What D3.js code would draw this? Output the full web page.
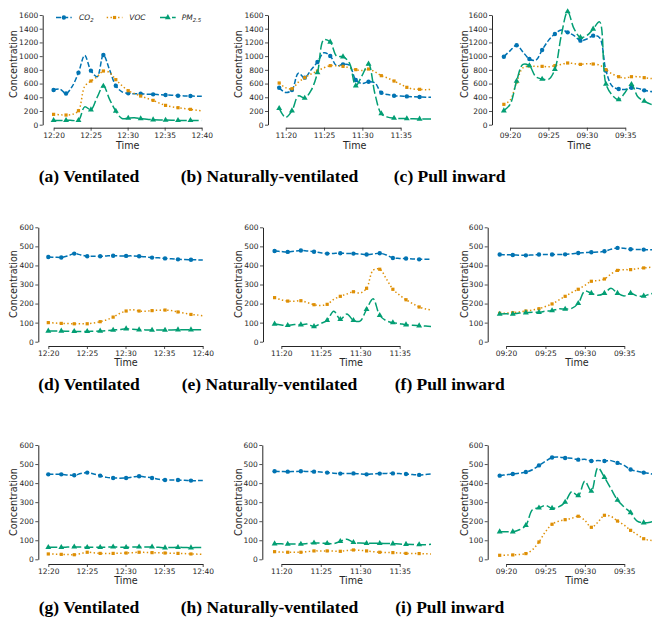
<!DOCTYPE html>
<html><head><meta charset="utf-8">
<script src="https://cdn.jsdelivr.net/npm/d3@7"></script>
<style>
body{margin:0;background:#fff;}
svg{display:block;font-family:"DejaVu Sans",sans-serif;}
</style></head><body>
<svg id="fig" width="652" height="626"></svg>
<script>
// ---- tick labels ----
const ticksNoon = ["12:20", "12:25", "12:30", "12:35", "12:40"];
const ticksEleven = ["11:20", "11:25", "11:30", "11:35"];
const ticksNine = ["09:20", "09:25", "09:30", "09:35"];
const yTicksHigh = [0, 200, 400, 600, 800, 1000, 1200, 1400, 1600];
const yTicksLow = [0, 100, 200, 300, 400, 500, 600];

// ---- sampling (minute of the hour of the first sample, minutes between samples) ----
const sampleNoon = { start: 20, step: 0.84 };
const sampleEleven = { start: 19.15, step: 0.8325 };
const sampleNine = { start: 19.2, step: 0.83 };

// ---- series values ----
const co2A = [506,520,455,560,759,1010,788,700,1016,800,569,480,457,450,453,445,443,438,433,430,423,420,418,415,415];
const vocA = [151,145,141,150,204,560,637,700,783,760,657,570,496,455,418,385,355,315,282,262,248,235,224,212,200];
const pmA  = [63,60,63,63,63,260,219,400,564,370,199,90,97,100,88,78,73,70,68,65,63,62,63,62,62];

const co2B = [540,470,506,750,686,800,914,1050,1002,860,880,870,652,600,627,610,467,440,423,418,413,408,404,400,400];
const vocB = [608,540,525,620,686,740,783,830,861,860,851,830,803,790,812,770,715,680,637,590,545,520,516,510,516];
const pmB  = [238,107,204,420,389,500,759,1240,1206,1000,992,900,569,720,885,450,161,110,97,90,88,85,83,83,83];

const co2C = [992,1080,1158,1060,958,940,1089,1230,1323,1380,1347,1300,1226,1250,1299,1270,788,560,520,515,540,530,501,485,475];
const vocC = [297,360,623,830,856,850,851,845,861,880,900,890,880,890,885,870,803,740,700,680,700,700,686,675,670];
const pmC  = [204,300,637,880,861,700,666,660,807,1300,1649,1400,1274,1300,1396,1500,593,430,365,470,588,408,345,300,270];

const co2D = [444,443,442,450,462,455,448,448,448,450,451,450,450,450,448,445,441,440,437,435,432,431,430,429,428];
const vocD = [100,98,96,95,94,94,94,98,105,115,129,148,161,168,161,160,163,165,166,163,156,150,143,140,135];
const pmD  = [56,56,56,55,54,54,54,55,56,58,61,64,68,65,63,62,61,61,61,62,63,63,63,63,63];

const co2E = [476,473,471,475,478,476,472,466,462,463,464,463,462,460,457,460,464,455,439,437,436,434,432,432,432];
const vocE = [231,220,213,212,215,205,194,190,196,222,238,250,262,255,280,375,380,330,275,245,220,200,182,172,166];
const pmE  = [93,88,86,90,89,92,80,95,112,160,117,145,112,108,170,225,138,110,100,95,89,86,84,82,79];

const co2F = [457,456,455,454,453,455,457,457,457,457,458,461,465,467,469,470,474,485,492,490,485,484,483,482,481];
const vocF = [149,150,152,156,161,166,173,185,198,218,238,258,275,295,317,320,329,355,374,378,378,383,387,390,394];
const pmF  = [145,146,145,150,152,155,154,160,163,172,171,175,201,265,254,243,254,280,254,240,254,240,240,250,257];

const co2G = [446,447,446,443,441,450,455,448,439,430,427,426,427,432,436,432,427,420,416,416,416,415,413,413,413];
const vocG = [28,27,26,25,24,30,37,34,31,31,31,32,33,35,37,36,35,34,33,32,31,30,28,27,26];
const pmG  = [63,63,63,64,65,64,63,63,63,64,65,64,63,64,65,65,65,63,61,62,63,62,61,62,63];

const co2H = [462,461,460,461,462,461,460,458,455,452,450,450,451,448,446,448,450,451,451,450,448,445,443,445,448];
const vocH = [40,38,37,37,37,40,44,44,44,43,42,46,49,47,44,40,37,36,35,33,31,30,30,29,28];
const pmH  = [82,81,80,80,80,83,86,85,84,82,94,105,89,85,84,84,84,83,82,80,79,78,77,77,79];

const co2I = [439,444,448,452,458,470,493,515,534,537,532,530,523,525,516,518,516,518,506,493,471,462,455,450,442];
const vocI = [21,22,23,25,30,50,91,145,184,200,208,215,226,205,168,195,231,225,201,180,152,130,108,100,98];
const pmI  = [145,145,145,155,178,260,270,282,268,275,300,355,334,410,358,480,430,370,311,275,245,200,192,195,205];

const captions = ["(a) Ventilated", "(b) Naturally-ventilated", "(c) Pull inward",
                  "(d) Ventilated", "(e) Naturally-ventilated", "(f) Pull inward",
                  "(g) Ventilated", "(h) Naturally-ventilated", "(i) Pull inward"];

// ---- styles ----
const series = [
  { key: "co2", color: "#0173b2", dash: "5,2.2", marker: "circle" },
  { key: "voc", color: "#de8f05", dash: "1.4,2.4", marker: "square" },
  { key: "pm",  color: "#029e73", dash: "9,3", marker: "triangle" }
];

// ---- layout ----
const rows = [
  { yMax: 1600, yTicks: yTicksHigh, yBottom: 124.7, yTop: 15,    spineY: 127.7, timeY: 149, labY: 64,  capY: 182 },
  { yMax: 600,  yTicks: yTicksLow,  yBottom: 341.7, yTop: 227.3, spineY: 346,   timeY: 366, labY: 284, capY: 390 },
  { yMax: 600,  yTicks: yTicksLow,  yBottom: 559.3, yTop: 445,   spineY: 564,   timeY: 584, labY: 502, capY: 613 }
];

const panels = [
  { row: 0, vals: [co2A, vocA, pmA], smp: sampleNoon,   ticks: ticksNoon,   x0: 53.6,  x1: 201.7, spineX: 42.7,  clipR: 201.8, timeX: 127.7, labX: 14,    capX: 89 },
  { row: 0, vals: [co2B, vocB, pmB], smp: sampleEleven, ticks: ticksEleven, x0: 285.7, x1: 400.7, spineX: 268,   clipR: 431,   timeX: 354.7, labX: 238.7, capX: 269.5 },
  { row: 0, vals: [co2C, vocC, pmC], smp: sampleNine,   ticks: ticksNine,   x0: 510,   x1: 625.3, spineX: 492,   clipR: 660,   timeX: 579.3, labX: 464.3, capX: 449.7 },
  { row: 1, vals: [co2D, vocD, pmD], smp: sampleNoon,   ticks: ticksNoon,   x0: 48.3,  x1: 202.7, spineX: 38.3,  clipR: 202.8, timeX: 126,   labX: 14,    capX: 89 },
  { row: 1, vals: [co2E, vocE, pmE], smp: sampleEleven, ticks: ticksEleven, x0: 281.3, x1: 399.7, spineX: 263,   clipR: 431,   timeX: 351.3, labX: 238.7, capX: 269.5 },
  { row: 1, vals: [co2F, vocF, pmF], smp: sampleNine,   ticks: ticksNine,   x0: 506,   x1: 624.3, spineX: 487.7, clipR: 660,   timeX: 577,   labX: 464.3, capX: 449.7 },
  { row: 2, vals: [co2G, vocG, pmG], smp: sampleNoon,   ticks: ticksNoon,   x0: 48.3,  x1: 202.7, spineX: 38.3,  clipR: 202.8, timeX: 126,   labX: 14,    capX: 89 },
  { row: 2, vals: [co2H, vocH, pmH], smp: sampleEleven, ticks: ticksEleven, x0: 281.3, x1: 399.7, spineX: 262.3, clipR: 431,   timeX: 351.3, labX: 238.7, capX: 269.5 },
  { row: 2, vals: [co2I, vocI, pmI], smp: sampleNine,   ticks: ticksNine,   x0: 506,   x1: 624.3, spineX: 487.7, clipR: 660,   timeX: 577,   labX: 464.3, capX: 449.7 }
];

const svg = d3.select("#fig");
const ink = "#262626";

function drawMarker(g, type, color, cx, cy) {
  if (type === "circle") {
    g.append("circle").attr("cx", cx).attr("cy", cy).attr("r", 2.2).attr("fill", color);
  } else if (type === "square") {
    g.append("rect").attr("x", cx - 1.6).attr("y", cy - 1.6).attr("width", 3.2).attr("height", 3.2).attr("fill", color);
  } else {
    g.append("path").attr("transform", `translate(${cx},${cy})`)
      .attr("d", d3.symbol(d3.symbolTriangle, 15)()).attr("fill", color);
  }
}

panels.forEach((p, idx) => {
  const r = rows[p.row];
  const lastTick = p.ticks.length === 5 ? 40 : 35;
  const x = d3.scaleLinear().domain([20, lastTick]).range([p.x0, p.x1]);
  const y = d3.scaleLinear().domain([0, r.yMax]).range([r.yBottom, r.yTop]);
  const g = svg.append("g");

  // clip the traces to the plotting area
  const clipId = "clip" + idx;
  svg.append("clipPath").attr("id", clipId).append("rect")
    .attr("x", p.spineX).attr("y", r.yTop - 20).attr("width", p.clipR - p.spineX)
    .attr("height", r.yBottom - r.yTop + 40);

  // axes
  const yAxis = d3.axisLeft(y).tickValues(r.yTicks).tickFormat(d3.format("d"))
    .tickSize(3).tickSizeOuter(0).tickPadding(1.5);
  const yg = g.append("g").attr("transform", `translate(${p.spineX},0)`).call(yAxis);
  const xTickVals = p.ticks.map((_, i) => 20 + 5 * i);
  const xAxis = d3.axisBottom(x).tickValues(xTickVals).tickFormat((d, i) => p.ticks[i])
    .tickSize(3).tickSizeOuter(0).tickPadding(1.5);
  const xg = g.append("g").attr("transform", `translate(0,${r.spineY})`).call(xAxis);
  [yg, xg].forEach(a => {
    a.select(".domain").attr("stroke", ink).attr("stroke-width", 1);
    a.selectAll(".tick line").attr("stroke", ink).attr("stroke-width", 0.8);
    a.selectAll(".tick text").attr("fill", ink).style("font-size", "7.5px")
      .style("font-family", "'DejaVu Sans', sans-serif");
  });

  g.append("text").attr("x", p.timeX).attr("y", r.timeY).attr("text-anchor", "middle")
    .attr("fill", ink).style("font-size", "9.6px").text("Time");
  g.append("text").attr("transform", `translate(${p.labX},${r.labY}) rotate(-90)`)
    .attr("text-anchor", "middle").attr("dy", "0.35em").attr("fill", ink)
    .style("font-size", "9.6px").text("Concentration");

  // traces
  const plot = g.append("g").attr("clip-path", `url(#${clipId})`);
  const t = i => p.smp.start + i * p.smp.step;
  const line = d3.line().x((d, i) => x(t(i))).y(d => y(d)).curve(d3.curveCatmullRom.alpha(0.5));
  series.forEach((s, si) => {
    const vals = p.vals[si];
    plot.append("path").attr("d", line(vals)).attr("fill", "none")
      .attr("stroke", s.color).attr("stroke-width", 1.5).attr("stroke-dasharray", s.dash);
    vals.forEach((v, i) => {
      if (i % 2 === 0 && i < vals.length - 1) drawMarker(plot, s.marker, s.color, x(t(i)), y(v));
    });
  });

  // caption
  svg.append("text").attr("x", p.capX).attr("y", r.capY).attr("text-anchor", "middle")
    .style("font-family", "'Liberation Serif', 'Times New Roman', serif")
    .style("font-weight", "bold").style("font-size", "17.5px").attr("fill", "#000")
    .text(captions[idx]);
});

// legend (first panel)
const legendItems = [
  { s: series[0], x: 56, tx: 79, main: "CO", sub: "2" },
  { s: series[1], x: 106.7, tx: 129.3, main: "VOC", sub: "" },
  { s: series[2], x: 160, tx: 181.7, main: "PM", sub: "2.5" }
];
const lg = svg.append("g");
legendItems.forEach(it => {
  const ly = 17.5;
  lg.append("line").attr("x1", it.x).attr("x2", it.x + 15.7).attr("y1", ly).attr("y2", ly)
    .attr("stroke", it.s.color).attr("stroke-width", 1.5).attr("stroke-dasharray", it.s.dash);
  drawMarker(lg, it.s.marker, it.s.color, it.x + 7.85, ly);
  const tx = lg.append("text").attr("x", it.tx).attr("y", ly + 2.7).attr("fill", ink)
    .style("font-size", "7.5px").style("font-style", "italic");
  tx.append("tspan").text(it.main);
  if (it.sub) tx.append("tspan").attr("dy", 1.8).style("font-size", "5.4px").text(it.sub);
});
</script>
</body></html>
